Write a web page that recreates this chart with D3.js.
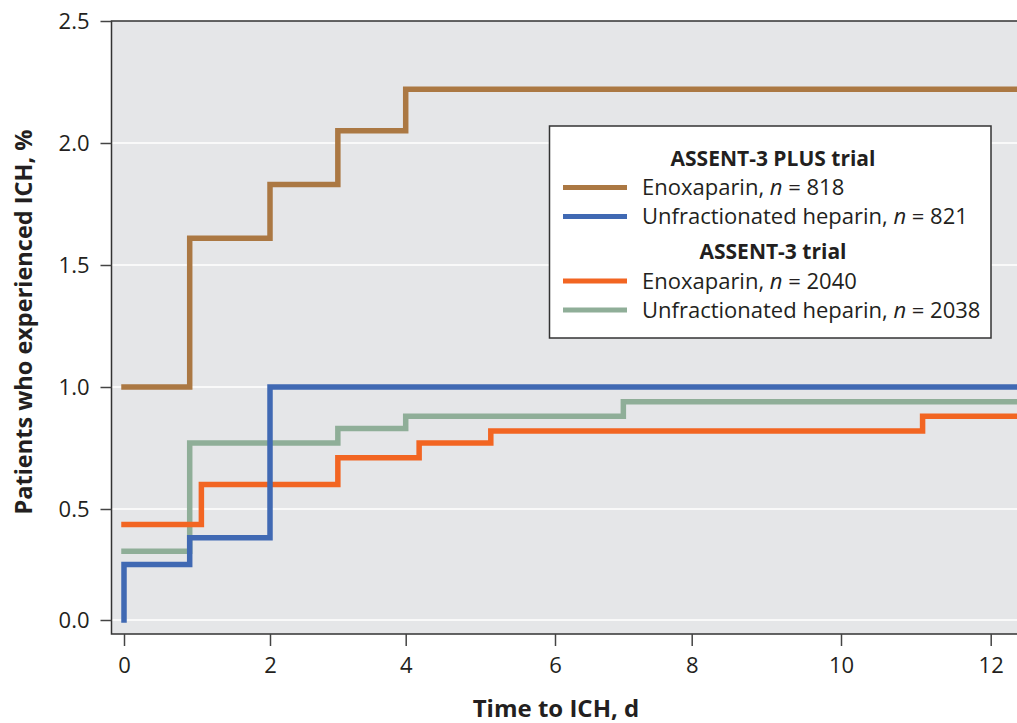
<!DOCTYPE html>
<html>
<head>
<meta charset="utf-8">
<script src="https://cdn.jsdelivr.net/npm/d3@7"></script>
<style>
  body { margin: 0; background: #fff; }
  svg { display: block; font-family: "Open Sans", sans-serif; }
</style>
</head>
<body>
<div id="chart"></div>
<script>

// ASSENT-3 PLUS trial
const plusEnoxTime = [0, 0.9, 2, 3, 4];
const plusEnoxPct = [1.0, 1.61, 1.83, 2.05, 2.22];
const plusUfhTime = [0, 0, 0.9, 2];
const plusUfhPct = [0, 0.25, 0.37, 1.0];

// ASSENT-3 trial
const a3EnoxTime = [0, 1.06, 3, 4.18, 5.14, 11.09];
const a3EnoxPct = [0.43, 0.60, 0.71, 0.77, 0.82, 0.88];
const a3UfhTime = [0, 0.9, 3, 4, 7];
const a3UfhPct = [0.31, 0.77, 0.83, 0.88, 0.94];

const lastDay = 12.6;

const xTicks = [0, 2, 4, 6, 8, 10, 12];
const yTicks = [0, 0.5, 1.0, 1.5, 2.0, 2.5];

const width = 1017;
const height = 723;

const colors = {
  plusEnox: '#ab7843',
  plusUfh: '#4069b3',
  a3Enox: '#f26522',
  a3Ufh: '#8fae98'
};

// the printed axes are not quite even, so the scales follow the printed ticks
const x = d3.scaleLinear()
  .domain(xTicks)
  .range([124, 270, 405.7, 555, 691.7, 841, 990.7]);

const y = d3.scaleLinear()
  .domain([0, 0.5, 2.5])
  .range([620, 509, 21]);

const plotLeft = 111.5;
const plotTop = 21;
const plotBottom = 634;

const svg = d3.select('#chart')
  .append('svg')
  .attr('width', width)
  .attr('height', height);

svg.append('rect')
  .attr('x', plotLeft)
  .attr('y', plotTop)
  .attr('width', width - plotLeft + 5)
  .attr('height', plotBottom - plotTop)
  .attr('fill', '#e5e6e8');

// grid
svg.append('g')
  .selectAll('line')
  .data(yTicks.slice(0, -1))
  .enter()
  .append('line')
  .attr('x1', plotLeft)
  .attr('x2', width)
  .attr('y1', function(d) { return y(d); })
  .attr('y2', function(d) { return y(d); })
  .attr('stroke', '#fff')
  .attr('stroke-width', 1.5);

// border
svg.append('path')
  .attr('d', 'M' + (width + 2) + ',' + plotTop + 'H' + plotLeft + 'V' + plotBottom + 'H' + (width + 2))
  .attr('fill', 'none')
  .attr('stroke', '#333')
  .attr('stroke-width', 1.5);

const yAxis = svg.append('g')
  .attr('transform', 'translate(' + plotLeft + ',0)')
  .call(d3.axisLeft(y)
    .tickValues(yTicks)
    .tickFormat(d3.format('.1f'))
    .tickSize(11)
    .tickPadding(11));

const xAxis = svg.append('g')
  .attr('transform', 'translate(0,' + plotBottom + ')')
  .call(d3.axisBottom(x)
    .tickValues(xTicks)
    .tickFormat(d3.format('d'))
    .tickSize(12)
    .tickPadding(11));

[yAxis, xAxis].forEach(function(g) {
  g.select('.domain').remove();
  g.selectAll('line').attr('stroke', '#444').attr('stroke-width', 1.5);
  g.selectAll('text')
    .attr('fill', '#231f20')
    .style('font-size', '22px')
    .style('font-family', '"Open Sans", sans-serif');
});

svg.append('text')
  .attr('transform', 'translate(32,322) rotate(-90)')
  .attr('text-anchor', 'middle')
  .attr('fill', '#231f20')
  .style('font-size', '23.5px')
  .style('font-weight', 'bold')
  .text('Patients who experienced ICH, %');

svg.append('text')
  .attr('x', 556)
  .attr('y', 717)
  .attr('text-anchor', 'middle')
  .attr('fill', '#231f20')
  .style('font-size', '24px')
  .style('font-weight', 'bold')
  .text('Time to ICH, d');

// curves
function toSteps(times, values) {
  const pts = times.map(function(t, i) { return [t, values[i]]; });
  pts.push([lastDay, values[values.length - 1]]);
  return pts;
}

const series = [
  { key: 'a3Ufh', pts: toSteps(a3UfhTime, a3UfhPct) },
  { key: 'a3Enox', pts: toSteps(a3EnoxTime, a3EnoxPct) },
  { key: 'plusUfh', pts: toSteps(plusUfhTime, plusUfhPct) },
  { key: 'plusEnox', pts: toSteps(plusEnoxTime, plusEnoxPct) }
];

const line = d3.line()
  .x(function(d) { return x(d[0]); })
  .y(function(d) { return y(d[1]); })
  .curve(d3.curveStepAfter);

svg.append('g')
  .selectAll('path')
  .data(series)
  .enter()
  .append('path')
  .attr('d', function(d) { return line(d.pts); })
  .attr('fill', 'none')
  .attr('stroke', function(d) { return colors[d.key]; })
  .attr('stroke-width', 5.5)
  .attr('stroke-linecap', 'square');

// legend
const legend = svg.append('g');

legend.append('rect')
  .attr('x', 549.5)
  .attr('y', 126)
  .attr('width', 441.5)
  .attr('height', 212)
  .attr('fill', '#fff')
  .attr('stroke', '#333')
  .attr('stroke-width', 1.5);

const legendRows = [
  { type: 'head', label: 'ASSENT-3 PLUS trial', y: 165.5 },
  { type: 'item', key: 'plusEnox', label: 'Enoxaparin, ', n: '818', y: 187.5 },
  { type: 'item', key: 'plusUfh', label: 'Unfractionated heparin, ', n: '821', y: 216.5 },
  { type: 'head', label: 'ASSENT-3 trial', y: 258.5 },
  { type: 'item', key: 'a3Enox', label: 'Enoxaparin, ', n: '2040', y: 281 },
  { type: 'item', key: 'a3Ufh', label: 'Unfractionated heparin, ', n: '2038', y: 310 }
];

legendRows.forEach(function(r) {
  if (r.type === 'head') {
    legend.append('text')
      .attr('x', 773)
      .attr('y', r.y)
      .attr('text-anchor', 'middle')
      .attr('fill', '#231f20')
      .style('font-size', '21px')
      .style('font-weight', 'bold')
      .text(r.label);
    return;
  }
  legend.append('line')
    .attr('x1', 563)
    .attr('x2', 627)
    .attr('y1', r.y)
    .attr('y2', r.y)
    .attr('stroke', colors[r.key])
    .attr('stroke-width', 5);
  const t = legend.append('text')
    .attr('x', 642)
    .attr('y', r.y + 7.5)
    .attr('fill', '#231f20')
    .style('font-size', '22px');
  t.append('tspan').text(r.label);
  t.append('tspan').style('font-style', 'italic').text('n');
  t.append('tspan').text(' = ' + r.n);
});

</script>
</body>
</html>
